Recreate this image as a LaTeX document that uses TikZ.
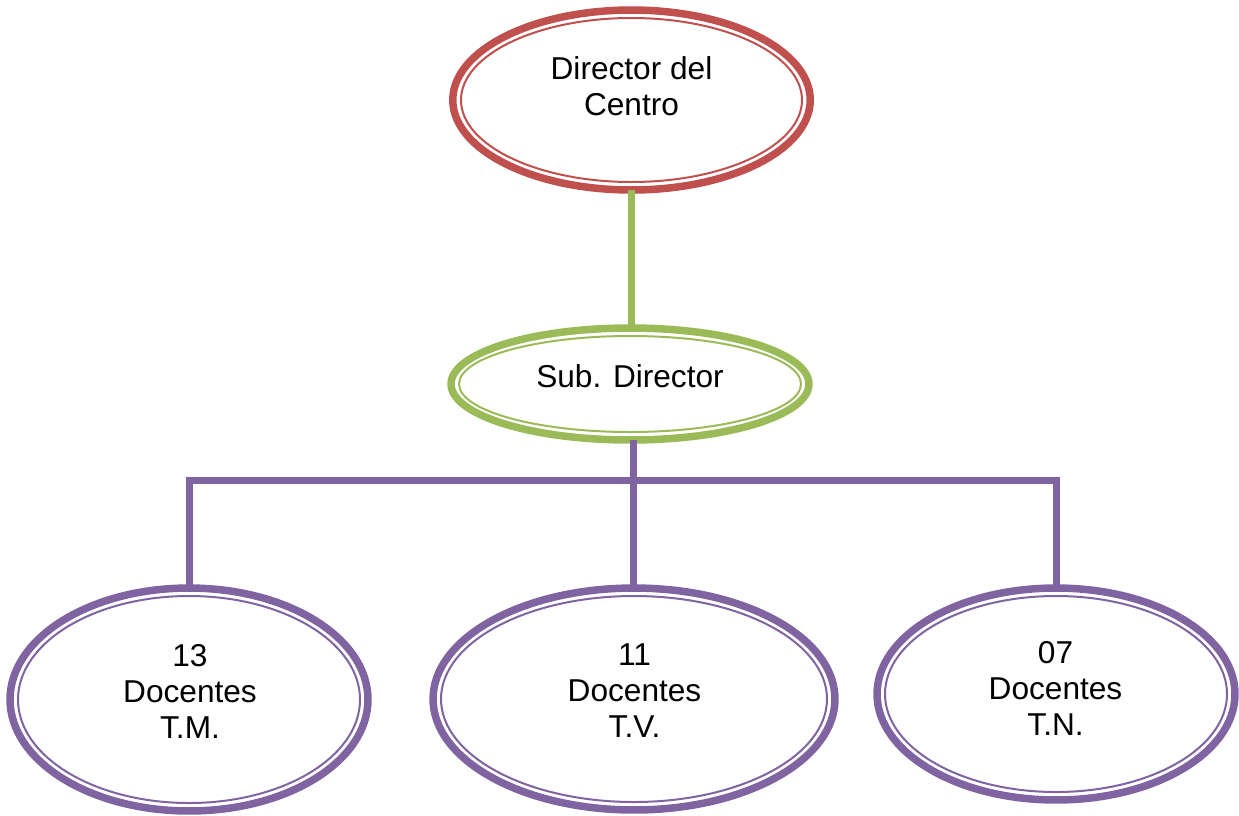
\documentclass[tikz,border=0pt]{standalone}
\usepackage{fontspec}
\setmainfont{Liberation Sans}
\usetikzlibrary{shapes.geometric,calc}
\definecolor{redc}{HTML}{C0504D}
\definecolor{greenc}{HTML}{9BBB59}
\definecolor{purplec}{HTML}{8064A2}
\begin{document}
\begin{tikzpicture}[x=0.02cm,y=-0.02cm,every node/.style={inner sep=0,outer sep=0},
    oval/.style={draw,ellipse,line width=0.15cm},
    inner/.style={line width=0.04cm},
    txt/.style={align=center,font=\fontsize{18}{20.5}\selectfont},
    link/.style={line width=0.14cm}]
    \useasboundingbox[fill=white] (0,0) rectangle (1239,815);
    \node[oval,draw=redc,minimum width=7.15cm,minimum height=3.6cm](dir) at (631.5,100) {}; \draw[inner,redc] (dir.center) ellipse [x radius=170.5,y radius=82];
    \node[txt](dirt) at ($(dir.center)+(0,-14)$) {Director del\\Centro};

    \node[oval,draw=greenc,minimum width=7.16cm,minimum height=2.24cm](sub) at (630,384) {}; \draw[inner,greenc] (sub.center) ellipse [x radius=171,y radius=48];
    \node[txt](subt) at ($(sub.center)+(0,-8)$) {Sub. Director};

    \node[oval,draw=purplec,minimum width=7.16cm,minimum height=4.46cm](tm) at (189,699.5) {}; \draw[inner,purplec] (tm.center) ellipse [x radius=171,y radius=103.5];
    \node[txt](tmt) at ($(tm.center)+(1,-8.5)$) {13\\Docentes\\T.M.};

    \node[oval,draw=purplec,minimum width=8.04cm,minimum height=4.44cm](tv) at (634,699) {}; \draw[inner,purplec] (tv.center) ellipse [x radius=193,y radius=103];
    \node[txt](tvt) at ($(tv.center)+(0.5,-8)$) {11\\Docentes\\T.V.};

    \node[oval,draw=purplec,minimum width=7.16cm,minimum height=4.24cm](tn) at (1056,694) {}; \draw[inner,purplec] (tn.center) ellipse [x radius=171,y radius=98];
    \node[txt](tnt) at ($(tn.center)+(-0.5,-5.5)$) {07\\Docentes\\T.N.};

    \coordinate (bar) at (634,480);
    \draw[link,greenc] (dir.south) -- (dir.south |- sub.north);
    \draw[link,purplec] ([xshift=0.06cm]sub.south) -- ([xshift=0.06cm]sub.south |- tv.north);
    \draw[link,purplec] (tm.north) |- (bar) -| (tn.north);
\end{tikzpicture}
\end{document}
